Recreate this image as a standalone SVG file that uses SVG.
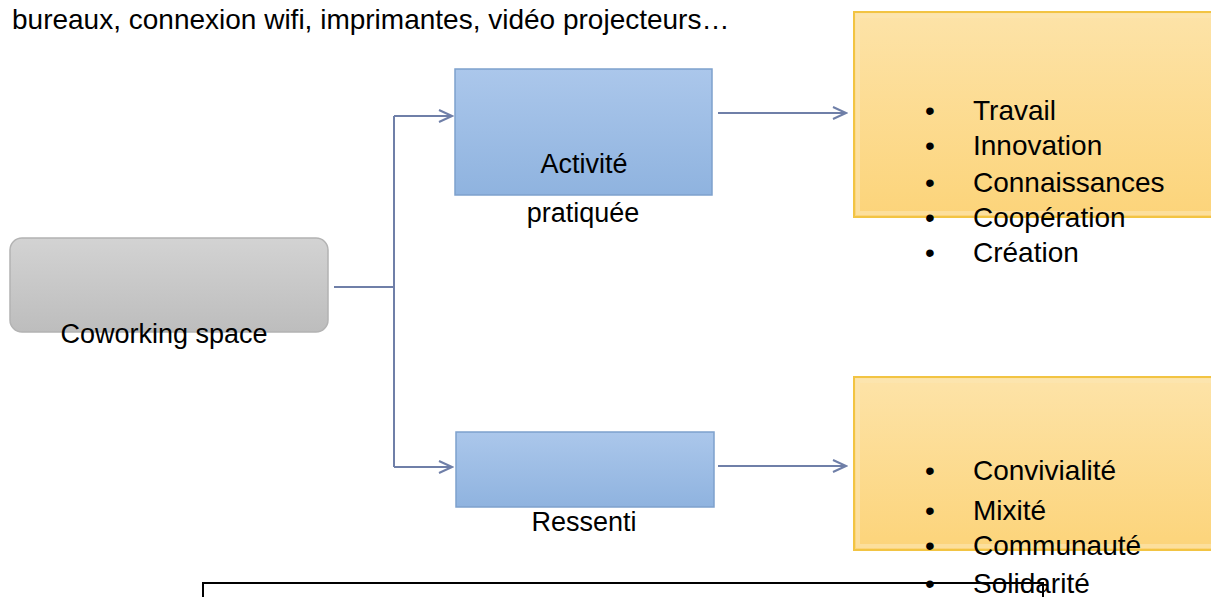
<svg xmlns="http://www.w3.org/2000/svg" width="1211" height="597" viewBox="0 0 1211 597">
<style>
text{font-family:"Liberation Sans",Arial,sans-serif;fill:#000}
.t{font-size:27px}
.b{font-size:28px}
.conn{fill:none;stroke:#6f7fa8;stroke-width:2}
.ah{fill:none;stroke:#6f7fa8;stroke-width:2}
</style>
<defs>
<linearGradient id="gGray" x1="0" y1="0" x2="0" y2="1"><stop offset="0" stop-color="#d3d3d3"/><stop offset="1" stop-color="#bdbdbd"/></linearGradient>
<linearGradient id="gBlue" x1="0" y1="0" x2="0" y2="1"><stop offset="0" stop-color="#abc7eb"/><stop offset="1" stop-color="#8fb3df"/></linearGradient>
<linearGradient id="gYel" x1="0" y1="0" x2="0" y2="1"><stop offset="0" stop-color="#fde3a8"/><stop offset="1" stop-color="#fcd47a"/></linearGradient>
<marker id="arr" markerWidth="16" markerHeight="14" refX="14" refY="7" orient="auto" markerUnits="userSpaceOnUse"><path d="M1,1 L14,7 L1,13" fill="none" stroke="#6f7fa8" stroke-width="2"/></marker>
</defs>
<rect width="1211" height="597" fill="#fff"/>
<text id="topnote" class="b" x="12" y="29">bureaux, connexion wifi, imprimantes, vidéo projecteurs…</text>
<g id="connectors">
<path class="conn" d="M334,287 H394"/>
<path class="conn" d="M394,116 V467"/>
<path class="conn" d="M394,116 H452" marker-end="url(#arr)"/>
<path class="conn" d="M394,467 H452" marker-end="url(#arr)"/>
<path class="conn" d="M718,113 H846" marker-end="url(#arr)"/>
<path class="conn" d="M718,466 H846" marker-end="url(#arr)"/>
<path d="M203,597 V583 H1043 V597" fill="none" stroke="#000" stroke-width="2"/>
</g>
<g id="coworking">
<rect x="10" y="238" width="318" height="94" rx="12" fill="url(#gGray)" stroke="#b3b3b3" stroke-width="1.5"/>
<text class="t" x="164" y="343" text-anchor="middle">Coworking space</text>
</g>
<g id="activite">
<rect x="455" y="69" width="257" height="126" fill="url(#gBlue)" stroke="#7ea1cd" stroke-width="1.5"/>
<text class="t" x="584" y="173" text-anchor="middle">Activité</text>
<text class="t" x="583" y="222" text-anchor="middle">pratiquée</text>
</g>
<g id="ressenti">
<rect x="456" y="432" width="258" height="75" fill="url(#gBlue)" stroke="#7ea1cd" stroke-width="1.5"/>
<text class="t" x="584" y="531" text-anchor="middle">Ressenti</text>
</g>
<g id="list1">
<rect x="854" y="12" width="360" height="205" fill="url(#gYel)" stroke="#f2c443" stroke-width="2"/>
<rect x="858" y="16" width="356" height="197" fill="none" stroke="#fbe6b2" stroke-width="4" opacity="0.6"/>
<text class="b" x="925" y="120">•</text><text class="b" x="973" y="120">Travail</text>
<text class="b" x="925" y="155">•</text><text class="b" x="973" y="155">Innovation</text>
<text class="b" x="925" y="192">•</text><text class="b" x="973" y="192">Connaissances</text>
<text class="b" x="925" y="227">•</text><text class="b" x="973" y="227">Coopération</text>
<text class="b" x="925" y="262">•</text><text class="b" x="973" y="262">Création</text>
</g>
<g id="list2">
<rect x="854" y="377" width="360" height="173" fill="url(#gYel)" stroke="#f2c443" stroke-width="2"/>
<rect x="858" y="381" width="356" height="165" fill="none" stroke="#fbe6b2" stroke-width="4" opacity="0.6"/>
<text class="b" x="925" y="480">•</text><text class="b" x="973" y="480">Convivialité</text>
<text class="b" x="925" y="520">•</text><text class="b" x="973" y="520">Mixité</text>
<text class="b" x="925" y="555">•</text><text class="b" x="973" y="555">Communauté</text>
<text class="b" x="925" y="593">•</text><text class="b" x="973" y="593">Solidarité</text>
</g>
</svg>
